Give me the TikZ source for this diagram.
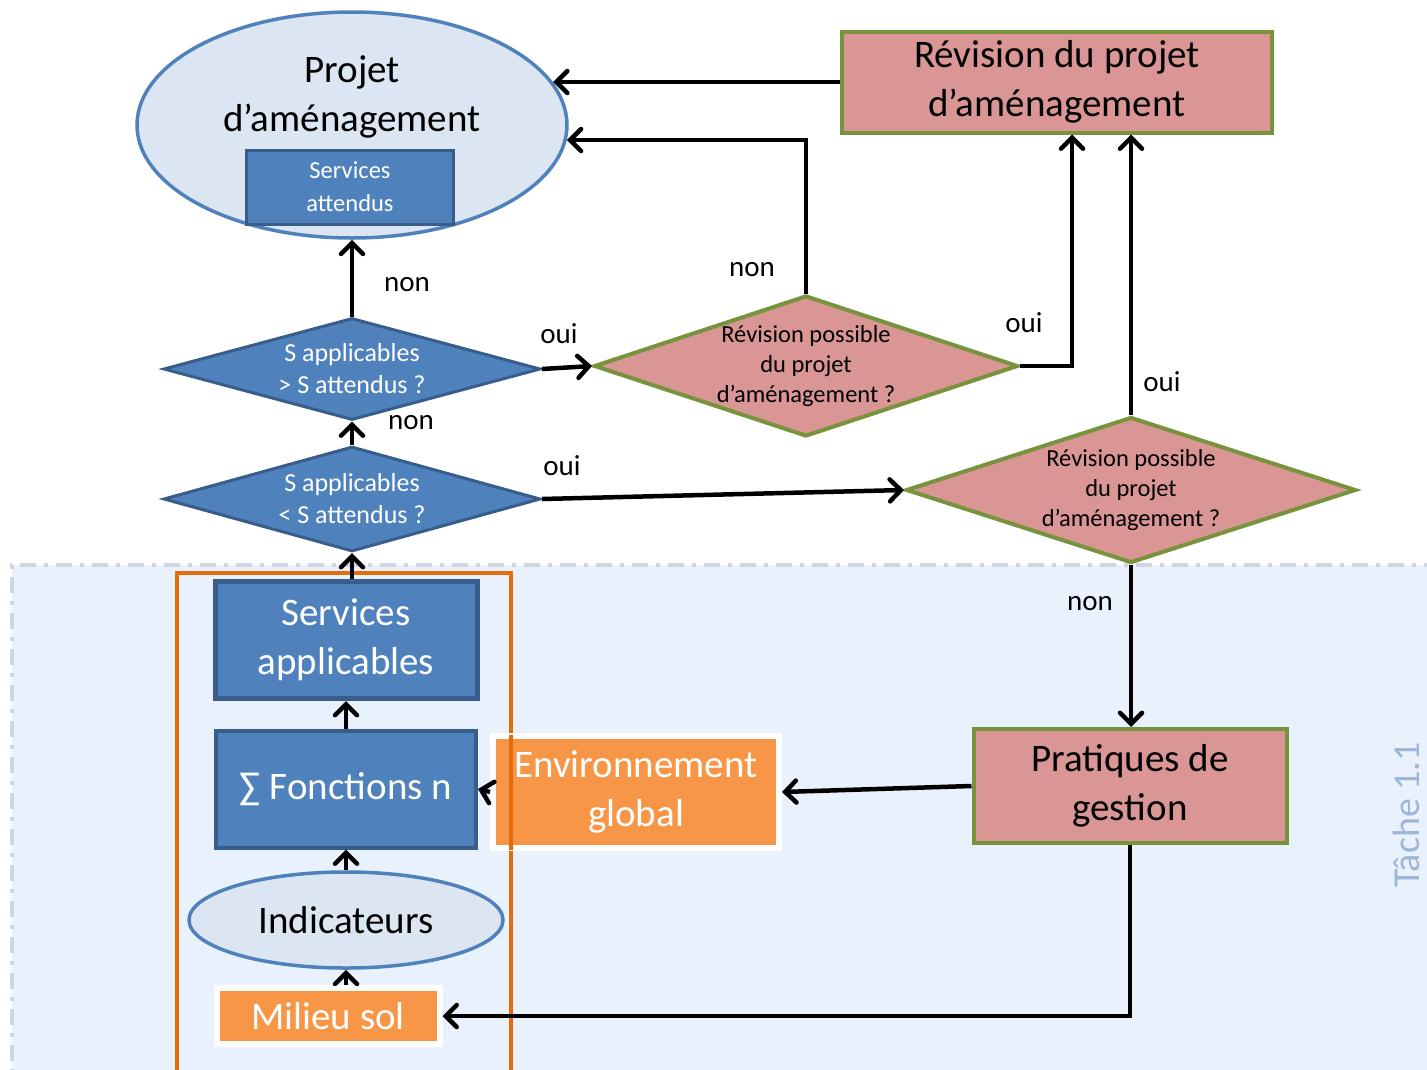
\documentclass[tikz,border=0pt]{standalone}
\usepackage{fontspec}
\setmainfont{Carlito}
\usetikzlibrary{shapes.geometric,arrows.meta,shadows}

\definecolor{bleu}{RGB}{79,129,189}
\definecolor{bleufonce}{RGB}{56,93,138}
\definecolor{bleuclair}{RGB}{220,230,242}
\definecolor{rose}{RGB}{217,150,148}
\definecolor{vert}{RGB}{119,147,60}
\definecolor{orange}{RGB}{247,150,70}
\definecolor{orangefonce}{RGB}{228,108,10}
\definecolor{fond}{RGB}{233,241,252}
\definecolor{fondtrait}{RGB}{205,214,226}
\definecolor{tachecol}{RGB}{157,182,216}

\begin{document}
\begin{tikzpicture}[x=1pt,y=-1pt,
    big/.style={font=\fontsize{39}{49}\selectfont,align=center},
    small/.style={font=\fontsize{24.5}{33}\selectfont,align=center},
    diatxt/.style={font=\fontsize{26}{32}\selectfont,align=center,inner sep=0pt},
    rdiatxt/.style={font=\fontsize{24.5}{30}\selectfont,align=center,inner sep=0pt},
    lab/.style={font=\fontsize{29}{34}\selectfont,inner sep=0pt},
    ell/.style={ellipse,draw=bleu,fill=bleuclair,line width=3.5pt},
    bluebox/.style={rectangle,draw=bleufonce,fill=bleu,text=white,inner sep=2pt},
    pinkbox/.style={rectangle,draw=vert,fill=rose,line width=4pt,inner sep=2pt},
    orangebox/.style={rectangle,draw=white,fill=orange,text=white,line width=6pt,inner sep=0pt,
        drop shadow={opacity=0.3,shadow xshift=2pt,shadow yshift=-3pt}},
    bluedia/.style={diamond,draw=bleufonce,fill=bleu,line width=3pt,inner sep=0pt},
    pinkdia/.style={diamond,draw=vert,fill=rose,line width=4pt,inner sep=0pt},
    arr/.style={line width=4.5pt,-{Straight Barb[length=11pt,width=22pt,line cap=round]}}
]
    \useasboundingbox (0,0) rectangle (1427,1069);

    % Tache 1.1 zone
    \fill[fond] (12,565) rectangle (1440,1080);
    \draw[fondtrait,line width=3.5pt,dash pattern=on 16pt off 8pt on 4pt off 8pt] (1440,565) -- (12,565) -- (12,1080);
    \node[font=\fontsize{38}{44}\selectfont,text=tachecol,rotate=90] (tache) at (1406,815) {Tâche 1.1};

    % projet d'amenagement
    \node[ell,minimum width=430,minimum height=226] (projet) at (352,125) {};
    \node[big] (projtxt) at (352,97) {Projet\\d’aménagement};
    \node[bluebox,small,line width=3pt,minimum width=207,minimum height=74] (sattendus) at (350,187) {Services\\attendus};
    \node[pinkbox,big,minimum width=430,minimum height=101] (revision) at (1057,82) {Révision du projet\\d’aménagement};

    % tests
    \node[bluedia,minimum width=377,minimum height=102,
        label={[diatxt,text=white]center:{S applicables\\> S attendus~?}}] (sup) at (352,369) {};
    \node[bluedia,minimum width=377,minimum height=105,
        label={[diatxt,text=white]center:{S applicables\\< S attendus~?}}] (inf) at (352,499) {};
    \node[pinkdia,minimum width=424,minimum height=141,
        label={[rdiatxt]center:{Révision possible\\du projet\\d’aménagement~?}}] (rev1) at (806,366) {};
    \node[pinkdia,minimum width=450,minimum height=146,
        label={[rdiatxt]center:{Révision possible\\du projet\\d’aménagement~?}}] (rev2) at (1131,490) {};

    % chaine du sol
    \draw[orangefonce,line width=4.5pt] (177,573) rectangle (511,1080);
    \node[bluebox,big,line width=5pt,minimum width=262,minimum height=117] (sapp) at (346,640) {Services\\applicables};
    \node[bluebox,big,line width=4pt,minimum width=260,minimum height=117] (fonctions) at (346,789) {∑ Fonctions n};
    \node[ell,big,minimum width=314,minimum height=96] (indic) at (346,920) {Indicateurs};
    \node[orangebox,big,minimum width=223,minimum height=56] (milieu) at (328,1016) {Milieu sol};
    \node[orangebox,big,minimum width=286,minimum height=112] (envglobal) at (636,792) {Environnement\\global};
    \draw[orangefonce,line width=4.5pt] (511,735) -- (511,850);
    \node[pinkbox,big,minimum width=313,minimum height=114] (pratiques) at (1130,786) {Pratiques de\\gestion};

    % fleches
    \draw[arr] (revision.west) -- (projet.12 |- revision.west);
    \draw[arr] (rev1.north) |- (projet.-4);
    \draw[arr] (sup.north) -- (projet.south);
    \draw[arr] (sup.east) -- (rev1.west);
    \draw[arr] (rev1.east) -| ([xshift=15pt]revision.south);
    \draw[arr] (rev2.north) -- (rev2.north |- revision.south);
    \draw[arr] (inf.north) -- (sup.south);
    \draw[arr] (inf.east) -- (rev2.west);
    \draw[arr] (sapp.north -| inf.south) -- (inf.south);
    \draw[arr] (rev2.south) -- (rev2.south |- pratiques.north);
    \draw[arr] (pratiques.west) -- (envglobal.east);
    \draw[arr] (envglobal.west) -- (fonctions.east);
    \draw[arr] (fonctions.north) -- (sapp.south);
    \draw[arr] (indic.north) -- (fonctions.south);
    \draw[arr] (milieu.north -| indic.south) -- (indic.south);
    \draw[arr] (pratiques.south) |- (milieu.east);

    % oui / non
    \node[lab] (non1) at (407,285) {non};
    \node[lab] (non2) at (752,270) {non};
    \node[lab] (oui1) at (559,334) {oui};
    \node[lab] (oui2) at (1024,323) {oui};
    \node[lab] (oui3) at (1162,382) {oui};
    \node[lab] (non3) at (411,423) {non};
    \node[lab] (oui4) at (562,466) {oui};
    \node[lab] (non4) at (1090,604) {non};
\end{tikzpicture}
\end{document}
